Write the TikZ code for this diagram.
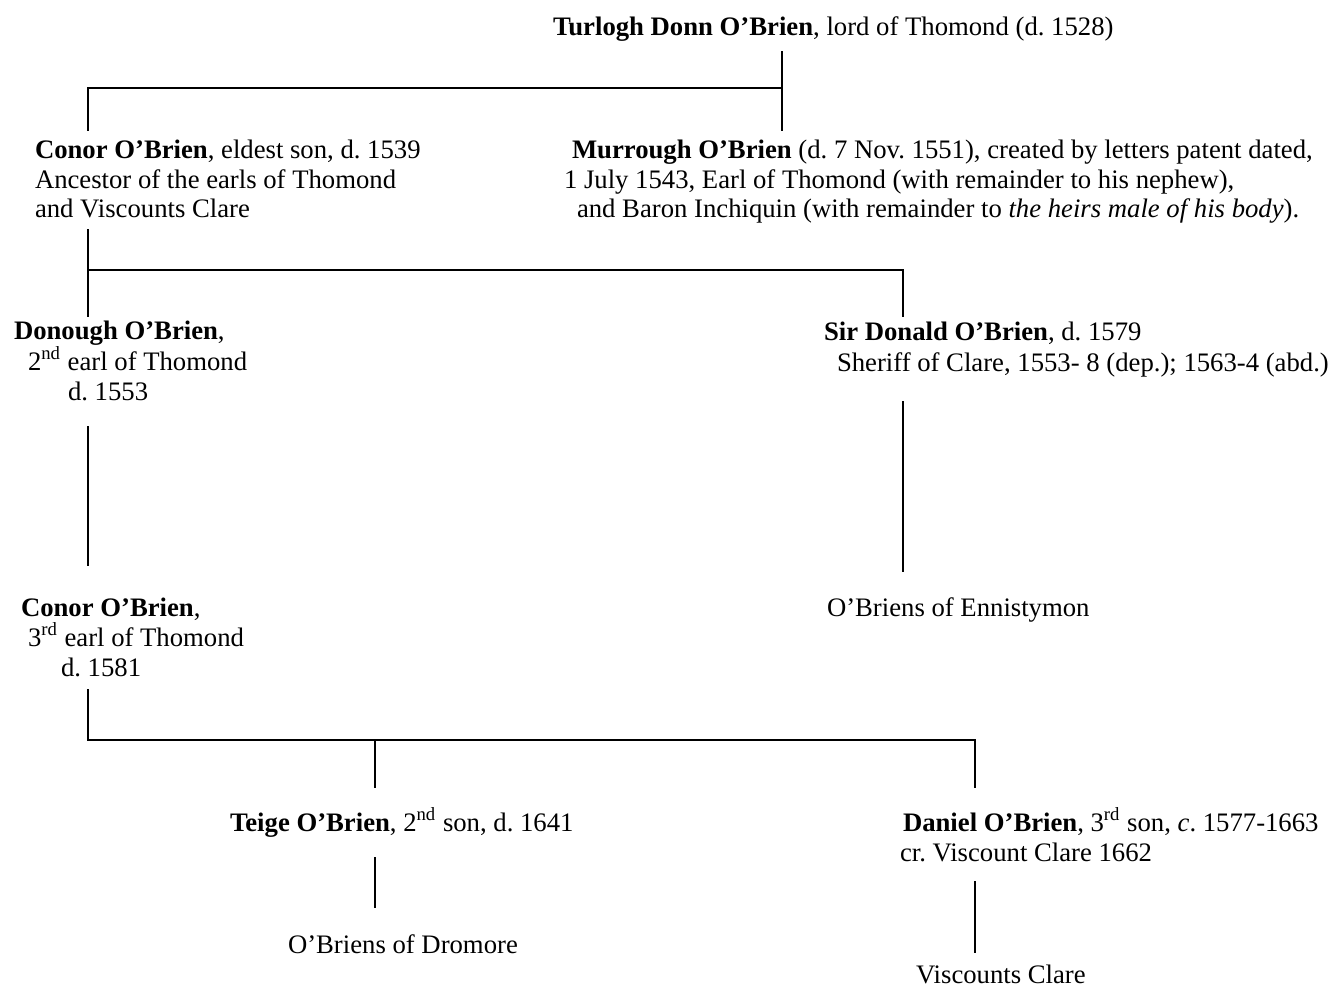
\documentclass[tikz,border=0pt]{standalone}
\usepackage{fontspec}
\setmainfont{Liberation Serif}
\frenchspacing
\begin{document}
\begin{tikzpicture}[x=0.5pt,y=-0.5pt,
  txt/.style={anchor=base west, inner sep=0pt, outer sep=0pt, font=\fontsize{13.35}{14.75}\selectfont},
  link/.style={line width=0.8pt, line cap=rect},
  bar/.style={line width=1pt, line cap=rect}]
\useasboundingbox (0,0) rectangle (1331,987);
% people
\node[txt] (turlogh) at (553,35) {\textbf{Turlogh Donn O’Brien}, lord of Thomond (d. 1528)};
\node[txt] (conor) at (35,158) {\textbf{Conor O’Brien}, eldest son, d. 1539};
\node[txt] (conorb) at (35,188) {Ancestor of the earls of Thomond};
\node[txt] (conorc) at (35,217) {and Viscounts Clare};
\node[txt] (murrough) at (572,158) {\textbf{Murrough O’Brien} (d. 7 Nov. 1551), created by letters patent dated,};
\node[txt] (murroughb) at (564,188) {1 July 1543, Earl of Thomond (with remainder to his nephew),};
\node[txt] (murroughc) at (577,217) {and Baron Inchiquin (with remainder to \textit{the heirs male of his body}).};
\node[txt] (donough) at (14,339) {\textbf{Donough O’Brien},};
\node[txt] (donoughb) at (28,370) {2\textsuperscript{nd} earl of Thomond};
\node[txt] (donoughc) at (68,400) {d. 1553};
\node[txt] (donald) at (824,340) {\textbf{Sir Donald O’Brien}, d. 1579};
\node[txt] (donaldb) at (837,371) {Sheriff of Clare, 1553- 8 (dep.); 1563-4 (abd.)};
\node[txt] (conor3) at (21,616) {\textbf{Conor O’Brien},};
\node[txt] (conor3b) at (28,646) {3\textsuperscript{rd} earl of Thomond};
\node[txt] (conor3c) at (61,676) {d. 1581};
\node[txt] (ennis) at (827,616) {O’Briens of Ennistymon};
\node[txt] (teige) at (230,831) {\textbf{Teige O’Brien}, 2\textsuperscript{nd} son, d. 1641};
\node[txt] (daniel) at (903,831) {\textbf{Daniel O’Brien}, 3\textsuperscript{rd} son, \textit{c}. 1577-1663};
\node[txt] (danielb) at (900,861) {cr. Viscount Clare 1662};
\node[txt] (dromore) at (288,953) {O’Briens of Dromore};
\node[txt] (visc) at (916,983) {Viscounts Clare};
% connector points
\coordinate (a0) at (782,52);  \coordinate (a1) at (782,88);
\coordinate (a2) at (88,88);   \coordinate (a3) at (782,130);
\coordinate (a4) at (88,130);
\coordinate (b0) at (88,230);  \coordinate (b1) at (88,270);
\coordinate (b2) at (903,270); \coordinate (b3) at (88,316);
\coordinate (b4) at (903,316);
\coordinate (c0) at (88,427);  \coordinate (c1) at (88,565);
\coordinate (c2) at (903,402); \coordinate (c3) at (903,571);
\coordinate (d0) at (88,690);  \coordinate (d1) at (88,740);
\coordinate (d2) at (975,740); \coordinate (d3) at (375,740);
\coordinate (d4) at (375,787); \coordinate (d5) at (975,787);
\coordinate (e0) at (375,858); \coordinate (e1) at (375,907);
\coordinate (e2) at (975,882); \coordinate (e3) at (975,952);
% connectors
\draw[link] (a0) -- (a3);
\draw[link] (a4) -- (a2);
\draw[bar] (a2) -- (a1);
\draw[link] (b0) -- (b1) -- (b3);
\draw[bar] (b1) -- (b2);
\draw[link] (b2) -- (b4);
\draw[link] (c0) -- (c1);
\draw[link] (c2) -- (c3);
\draw[link] (d0) -- (d1);
\draw[bar] (d1) -- (d2);
\draw[link] (d2) -- (d5);
\draw[link] (d3) -- (d4);
\draw[link] (e0) -- (e1);
\draw[link] (e2) -- (e3);
\end{tikzpicture}
\end{document}
